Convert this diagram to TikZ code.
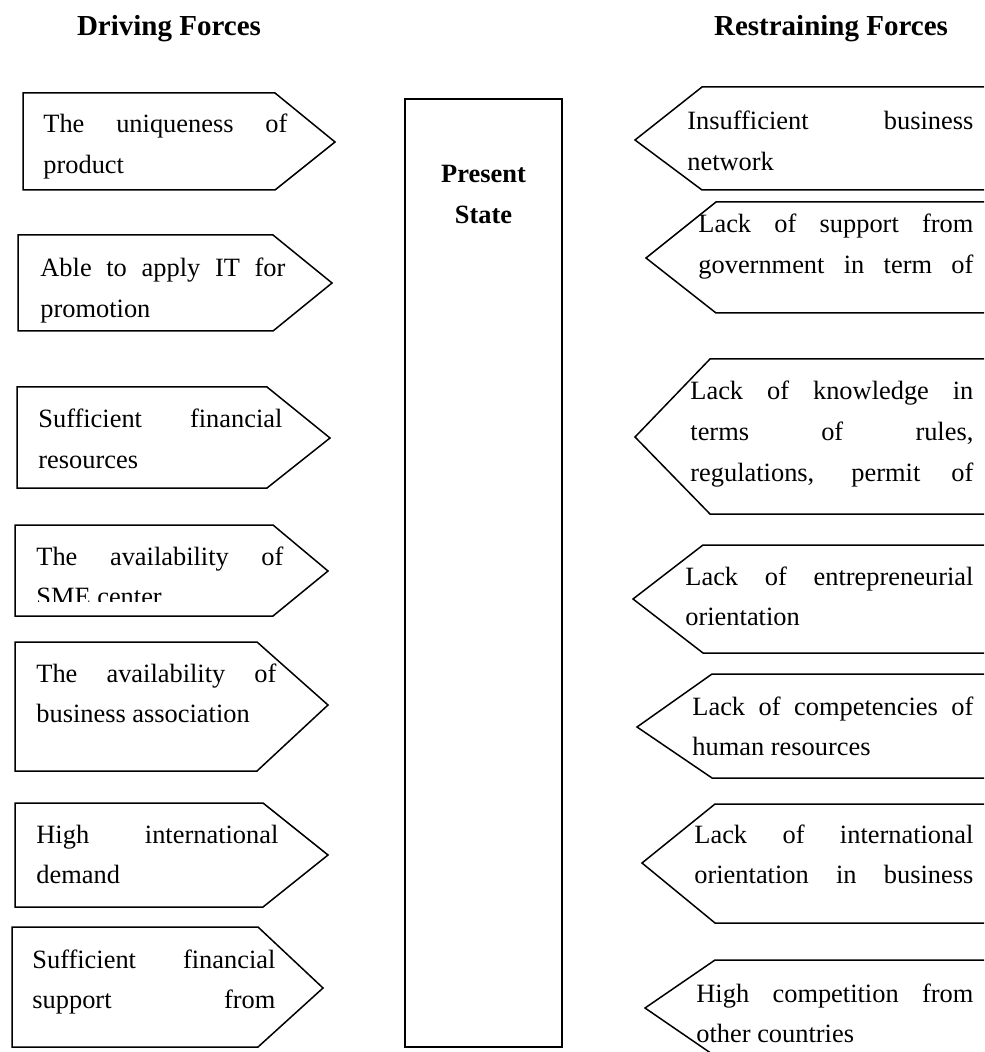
\documentclass[tikz,border=0pt]{standalone}
\usepackage{fontspec}
\setmainfont{Liberation Serif}
\usetikzlibrary{positioning}
\tikzset{force/.style={
    draw=black,
    line width=0.75pt,
    line join=miter
}}
\tikzset{forcetext/.style={
    anchor=base west,
    inner sep=0pt,
    align=justify,
    font=\fontsize{13.2}{20.3}\selectfont
}}
\tikzset{heading/.style={
    anchor=base,
    inner sep=0pt,
    font=\fontsize{14.5}{18}\selectfont\bfseries
}}

\begin{document}
\begin{tikzpicture}[x=0.5pt, y=-0.5pt]
    \useasboundingbox (0,0) rectangle (984,1052);
    \clip (0,0) rectangle (984,1052);

    % column titles
    \node (driving) [heading] at (169,36) {Driving Forces};
    \node (restraining) [heading] at (831,36) {Restraining Forces};

    % the present state bar in the middle
    \node (state) [draw, line width=0.9pt, inner sep=0pt, outer sep=0pt,
        anchor=north west, minimum width=78.5pt, minimum height=474pt] at (405,99) {};
    \node (statelabel) [below=33pt of state.north, align=center, inner sep=0pt,
        font=\fontsize{13.2}{20.5}\selectfont\bfseries] {Present\\State};

    % driving forces, pointing right
    \draw [force] (23,93) -- (275,93) -- (335,142) -- (275,190) -- (23,190) -- cycle;
    \node (drive1) [forcetext, text width=122pt] at (43,133)
        {The uniqueness of\linebreak product};

    \draw [force] (18,235) -- (273,235) -- (332,283) -- (273,331) -- (18,331) -- cycle;
    \node (drive2) [forcetext, text width=122.5pt] at (40,277)
        {Able to apply IT for\linebreak promotion};

    \draw [force] (17,387) -- (267,387) -- (330,438) -- (267,488) -- (17,488) -- cycle;
    \node (drive3) [forcetext, text width=122pt] at (38,428)
        {Sufficient financial\linebreak resources};

    \draw [force] (15,525) -- (273,525) -- (328,571) -- (273,616) -- (15,616) -- cycle;
    \begin{scope}
        \clip (15,525) rectangle (330,601);
        \node (drive4) [forcetext, text width=123.5pt] at (36,565)
            {The availability of\linebreak SME center};
    \end{scope}

    \draw [force] (15,642) -- (257,642) -- (328,705) -- (257,771) -- (15,771) -- cycle;
    \node (drive5) [forcetext, text width=120pt] at (36,682)
        {The availability of\linebreak business association};

    \draw [force] (15,803) -- (263,803) -- (328,855) -- (263,907) -- (15,907) -- cycle;
    \node (drive6) [forcetext, text width=121pt] at (36,843)
        {High international\linebreak demand};

    \draw [force] (12,927) -- (258,927) -- (323,988) -- (258,1047) -- (12,1047) -- cycle;
    \node (drive7) [forcetext, text width=121.5pt] at (32,968)
        {Sufficient financial\linebreak support from\linebreak\mbox{}};

    % restraining forces, pointing left (cut by the right margin)
    \draw [force] (992,87) -- (702,87) -- (635,140) -- (702,190) -- (992,190) -- cycle;
    \node (restrain1) [forcetext, text width=143pt] at (687,130)
        {Insufficient business\linebreak network};

    \draw [force] (992,202) -- (716,202) -- (646,258) -- (716,313) -- (992,313) -- cycle;
    \node (restrain2) [forcetext, text width=137.5pt] at (698,233)
        {Lack of support from\linebreak government in term of\linebreak\mbox{}};

    \draw [force] (992,359) -- (710,359) -- (635,437) -- (710,514) -- (992,514) -- cycle;
    \node (restrain3) [forcetext, text width=141.5pt] at (690,400)
        {Lack of knowledge in\linebreak terms of rules,\linebreak regulations, permit of\linebreak\mbox{}};

    \draw [force] (992,545) -- (703,545) -- (633,599) -- (703,653) -- (992,653) -- cycle;
    \node (restrain4) [forcetext, text width=144pt] at (685,585)
        {Lack of entrepreneurial\linebreak orientation};

    \draw [force] (992,674) -- (712,674) -- (637,727) -- (712,778) -- (992,778) -- cycle;
    \node (restrain5) [forcetext, text width=140.5pt] at (692,715)
        {Lack of competencies of\linebreak human resources};

    \draw [force] (992,804) -- (715,804) -- (642,863) -- (715,923) -- (992,923) -- cycle;
    \node (restrain6) [forcetext, text width=139.5pt] at (694,843)
        {Lack of international\linebreak orientation in business\linebreak\mbox{}};

    \draw [force] (992,960) -- (715,960) -- (645,1008) -- (715,1056) -- (992,1056) -- cycle;
    \node (restrain7) [forcetext, text width=138.5pt] at (696,1002)
        {High competition from\linebreak other countries};
\end{tikzpicture}
\end{document}
